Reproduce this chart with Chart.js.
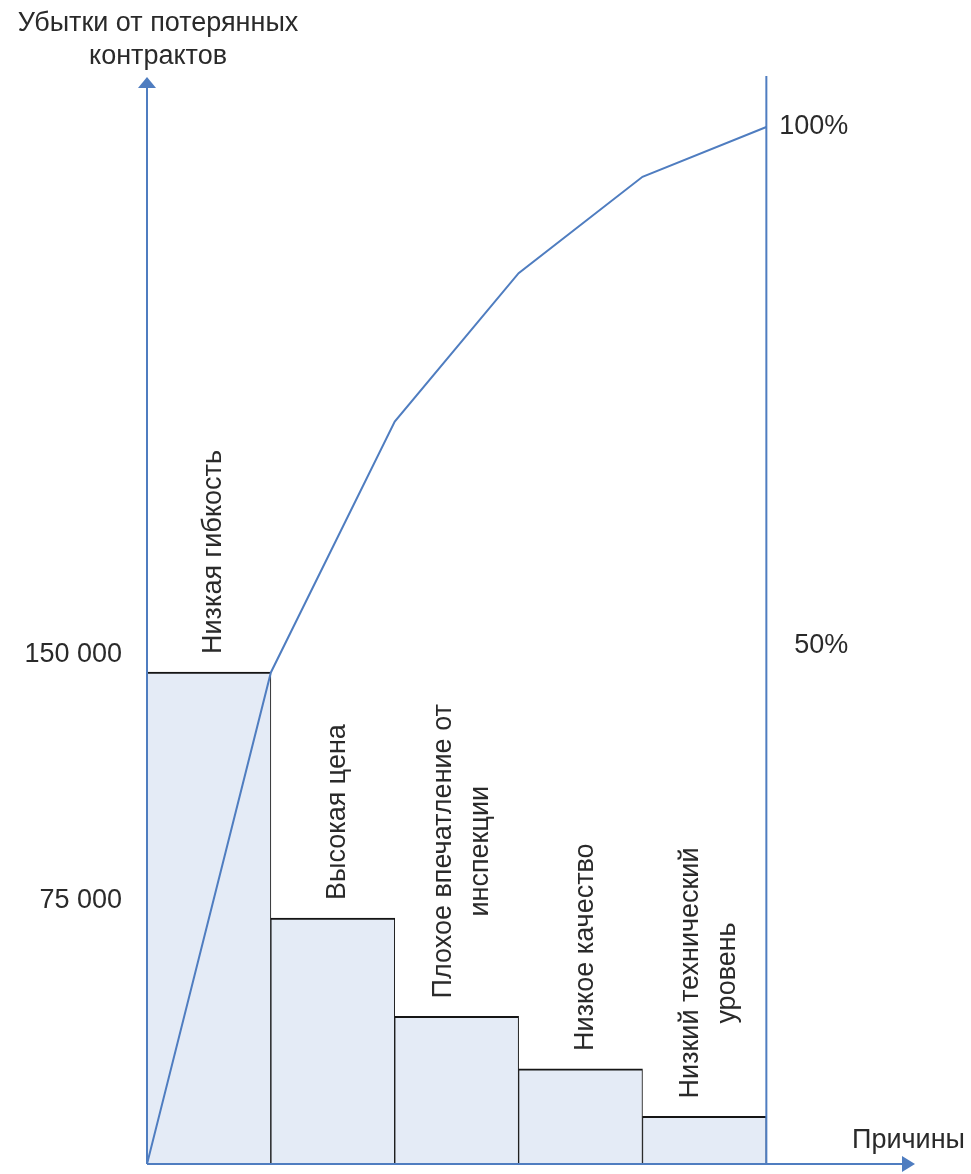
<!DOCTYPE html>
<html>
<head>
<meta charset="utf-8">
<script src="https://cdn.jsdelivr.net/npm/chart.js@4.4.1/dist/chart.umd.min.js"></script>
<style>
  html, body { margin: 0; padding: 0; background: #fff; }
  canvas { display: block; }
</style>
</head>
<body>
<canvas id="pareto" width="971" height="1174"></canvas>
<script>
// data
const causes = [
  ["Низкая гибкость"],
  ["Высокая цена"],
  ["Плохое впечатление от", "инспекции"],
  ["Низкое качество"],
  ["Низкий технический", "уровень"],
];
const barCenters = [0.5, 1.5, 2.5, 3.5, 4.5];
const losses = [150000, 75000, 45000, 29000, 14500];
const edges = [0, 1, 2, 3, 4, 5];
const cumulativePct = [0, 47.4, 71.6, 85.9, 95.2, 100];
const valueTicks = [75000, 150000];
const valueTickLabels = ["75 000", "150 000"];
const pctTicks = [50, 100];
const pctTickLabels = ["50%", "100%"];
const titleLines = ["Убытки от потерянных", "контрактов"];
const xTitle = "Причины";

const AXIS = "#4f7dc0";
const TEXT = "#2a2a2a";
const FONT = "27px 'Liberation Sans', Arial, sans-serif";

const paretoPlugin = {
  id: "paretoAxes",
  afterDatasetsDraw(chart) {
    const c = chart.ctx;
    const { x, y, pct } = chart.scales;
    const area = chart.chartArea;
    const x0 = x.getPixelForValue(0);
    const x5 = x.getPixelForValue(5);
    const yb = y.getPixelForValue(0);

    c.save();
    c.strokeStyle = AXIS;
    c.fillStyle = AXIS;
    c.lineWidth = 2;
    c.beginPath();
    c.moveTo(x0, yb); c.lineTo(x0, area.top + 10);
    c.moveTo(x5, yb); c.lineTo(x5, area.top);
    c.moveTo(x0, yb); c.lineTo(area.right - 10, yb);
    c.stroke();
    // arrow heads
    c.beginPath();
    c.moveTo(x0, area.top + 1);
    c.lineTo(x0 - 9, area.top + 12);
    c.lineTo(x0 + 9, area.top + 12);
    c.closePath();
    c.fill();
    c.beginPath();
    c.moveTo(area.right, yb);
    c.lineTo(area.right - 13, yb - 8);
    c.lineTo(area.right - 13, yb + 8);
    c.closePath();
    c.fill();

    c.fillStyle = TEXT;
    c.font = FONT;
    c.textBaseline = "middle";

    // title
    c.textAlign = "center";
    titleLines.forEach((t, i) => c.fillText(t, x0 + 11, 24 + i * 33));

    // value axis labels
    c.textAlign = "right";
    valueTicks.forEach((v, i) => c.fillText(valueTickLabels[i], x0 - 25, y.getPixelForValue(v) - 17));

    // percent labels
    pctTicks.forEach((v, i) => c.fillText(pctTickLabels[i], x5 + 82, pct.getPixelForValue(v)));

    // x title
    c.textAlign = "left";
    c.fillText(xTitle, area.right - 63, yb - 23);

    // rotated cause labels above bars
    const meta = chart.getDatasetMeta(0);
    meta.data.forEach((bar, i) => {
      const lines = causes[i];
      const w = Math.max(...lines.map(l => c.measureText(l).width));
      c.save();
      c.translate(bar.x + 5, bar.y - 18);
      c.rotate(-Math.PI / 2);
      c.textAlign = "center";
      lines.forEach((l, j) => c.fillText(l, w / 2, (j - (lines.length - 1) / 2) * 37));
      c.restore();
    });
    c.restore();
  },
};

new Chart(document.getElementById("pareto"), {
  type: "bar",
  data: {
    datasets: [
      {
        type: "bar",
        data: barCenters.map((v, i) => ({ x: v, y: losses[i] })),
        backgroundColor: "#e4ebf6",
        borderColor: "#151515",
        borderWidth: { top: 2, left: 1, right: 1, bottom: 0 },
        barPercentage: 1,
        categoryPercentage: 1,
        yAxisID: "y",
        order: 1,
      },
      {
        type: "line",
        data: edges.map((v, i) => ({ x: v, y: cumulativePct[i] })),
        borderColor: AXIS,
        borderWidth: 2,
        pointRadius: 0,
        tension: 0,
        yAxisID: "pct",
        order: 0,
      },
    ],
  },
  options: {
    responsive: false,
    animation: false,
    devicePixelRatio: 1,
    layout: { padding: { left: 147, right: 56, top: 76, bottom: 10 } },
    plugins: { legend: { display: false }, tooltip: { enabled: false } },
    scales: {
      x: {
        type: "linear",
        min: 0,
        max: 6.2,
        offset: false,
        grid: { offset: false },
        display: false,
        afterBuildTicks: (s) => { s.ticks = edges.map(v => ({ value: v })); },
      },
      y: { min: 0, max: 331700, display: false },
      pct: { min: 0, max: 104.92, display: false, position: "right" },
    },
  },
  plugins: [paretoPlugin],
});
</script>
</body>
</html>
